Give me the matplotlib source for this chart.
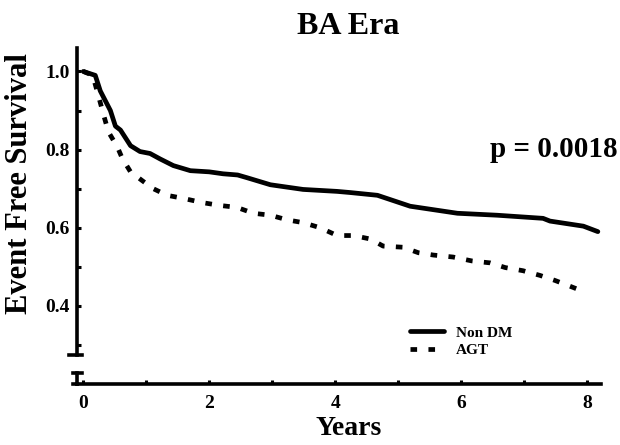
import numpy as np
import matplotlib
matplotlib.use('Agg')
import matplotlib.pyplot as plt

# --- Data (years, event free survival) ---
non_dm_years = [0, 0.19, 0.27, 0.43, 0.51, 0.59, 0.75, 0.9, 1.06, 1.22, 1.43, 1.70,
                2.0, 2.22, 2.45, 2.6, 2.97, 3.49, 4.03, 4.24, 4.67, 5.19, 5.94, 6.57,
                7.3, 7.41, 7.94, 8.17]
non_dm_surv = [1.0, 0.99, 0.95, 0.90, 0.86, 0.85, 0.81, 0.795, 0.79, 0.776, 0.759, 0.746,
               0.743, 0.738, 0.735, 0.728, 0.71, 0.698, 0.693, 0.69, 0.683, 0.655, 0.637, 0.632,
               0.624, 0.617, 0.604, 0.59]

agt_years = [0, 0.15, 0.27, 0.32, 0.4, 0.54, 0.62, 0.75, 0.94, 1.11, 1.33, 1.59, 1.9,
             2.17, 2.44, 2.7, 2.97, 3.24, 3.49, 3.76, 4.03, 4.29, 4.56, 4.76, 5.08, 5.32,
             5.56, 5.87, 6.17, 6.46, 6.7, 6.98, 7.25, 7.49, 7.7, 7.97]
agt_surv = [1.0, 0.99, 0.92, 0.89, 0.845, 0.807, 0.777, 0.743, 0.72, 0.70, 0.683, 0.675,
            0.664, 0.657, 0.652, 0.637, 0.632, 0.62, 0.613, 0.60, 0.58, 0.58, 0.571, 0.553,
            0.55, 0.536, 0.53, 0.525, 0.515, 0.51, 0.498, 0.49, 0.478, 0.465, 0.452, 0.435]

series_labels = ['Non DM', 'AGT']
title_text = 'BA Era'
p_text = 'p = 0.0018'
y_major = [0.4, 0.6, 0.8, 1.0]
y_minor = [0.3, 0.5, 0.7, 0.9]
x_major = [0, 2, 4, 6, 8]
x_minor = [1, 3, 5, 7]

# --- Style ---
FONT = 'Liberation Serif'
plt.rcParams['font.family'] = FONT
plt.rcParams['font.weight'] = 'bold'
SPINE_W = 2.6
CURVE_W = 3.4

fig = plt.figure(figsize=(6.2, 4.45), dpi=100)
ax = fig.add_axes([77 / 620, 1 - 384 / 445, (601 - 77) / 620, (384 - 48) / 445])

ax.plot(non_dm_years, non_dm_surv, color='black', lw=CURVE_W, solid_capstyle='round',
        label=series_labels[0])
ax.plot(agt_years, agt_surv, color='black', lw=CURVE_W, linestyle=(0, (1.4, 2.4)),
        label=series_labels[1])

ax.set_xlim(-0.1, 8.22)
ax.set_ylim(0.2, 1.06)

# spines: bottom kept, left drawn by hand with a break
for s in ['top', 'right', 'left']:
    ax.spines[s].set_visible(False)
ax.spines['bottom'].set_linewidth(SPINE_W)

ytr = ax.get_yaxis_transform()
ax.plot([0, 0], [0.275, 1.06], color='black', lw=SPINE_W, transform=ytr, clip_on=False)
ax.plot([-0.015, 0.009], [0.275, 0.275], color='black', lw=SPINE_W, transform=ytr, clip_on=False)
ax.plot([0, 0], [0.2, 0.228], color='black', lw=SPINE_W, transform=ytr, clip_on=False)
ax.plot([-0.008, 0.009], [0.228, 0.228], color='black', lw=SPINE_W, transform=ytr, clip_on=False)
ax.plot([-0.008, 0], [0.2, 0.2], color='black', lw=SPINE_W, transform=ytr, clip_on=False)

ax.set_yticks(y_major)
ax.set_yticks(y_minor, minor=True)
ax.set_yticklabels([f'{v:.1f}' for v in y_major])
ax.set_xticks(x_major)
ax.set_xticks(x_minor, minor=True)
ax.tick_params(which='both', direction='in', length=3, width=2.2, labelsize=14)
ax.tick_params(axis='y', pad=5)
ax.tick_params(axis='x', pad=8)
for lab in ax.get_xticklabels() + ax.get_yticklabels():
    lab.set_fontweight('bold')

ax.set_ylabel('Event Free Survival', fontsize=22, fontweight='bold')
ax.yaxis.set_label_coords(-0.082, 0.597)
ax.set_xlabel('Years', fontsize=20, fontweight='bold')
ax.xaxis.set_label_coords(0.518, -0.095)

fig.text(348 / 620, 1 - 34 / 445, title_text, ha='center', va='baseline',
         fontsize=23, fontweight='bold')
ax.text(8.48, 0.80, p_text, ha='right', va='center', fontsize=21, fontweight='bold',
        clip_on=False)

leg = ax.legend(loc='center left', bbox_to_anchor=(410 / 620, 1 - 341.5 / 445),
                bbox_transform=fig.transFigure, frameon=False, borderpad=0,
                borderaxespad=0, handlelength=2.2, handletextpad=0.8, labelspacing=0.25,
                prop={'family': FONT, 'weight': 'bold', 'size': 11})

fig.savefig('out.png', dpi=100)
